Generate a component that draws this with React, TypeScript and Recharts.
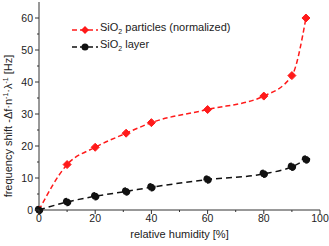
import { LineChart, Line, XAxis, YAxis } from "recharts";

const humidity = [0, 10, 20, 31, 40, 60, 80, 90, 95];
const particles = [0, 14.2, 19.6, 24.0, 27.3, 31.4, 35.6, 42.0, 60.0];
const layer = [0, 2.5, 4.3, 5.8, 7.1, 9.5, 11.3, 13.5, 15.8];

const xTicks = [0, 10, 20, 30, 40, 50, 60, 70, 80, 90, 100];
const yTicks = [0, 5, 10, 15, 20, 25, 30, 35, 40, 45, 50, 55, 60];

const RED = "#ff1a1a";
const BLACK = "#111111";
const AXIS = "#333333";
const FONT = "'Liberation Sans', Arial, sans-serif";

const data = humidity.map((x, i) => ({ x, particles: particles[i], layer: layer[i] }));

function XTick(props: any) {
  const { x, y, payload } = props;
  const major = payload.value % 20 === 0;
  return (
    <g>
      <line x1={x} x2={x} y1={y} y2={y + (major ? 4 : 2)} stroke={AXIS} />
      {major && (
        <text x={x} y={y + 12} textAnchor="middle" fontSize={10.5} fill="#222" fontFamily={FONT}>
          {payload.value}
        </text>
      )}
    </g>
  );
}

function YTick(props: any) {
  const { x, y, payload } = props;
  const major = payload.value % 10 === 0;
  return (
    <g>
      <line x1={x} x2={x - (major ? 4 : 2)} y1={y} y2={y} stroke={AXIS} />
      {major && (
        <text x={x - 6} y={y + 3.5} textAnchor="end" fontSize={10.5} fill="#222" fontFamily={FONT}>
          {payload.value}
        </text>
      )}
    </g>
  );
}

function Diamond(props: any) {
  const { cx, cy } = props;
  if (cx == null || cy == null) return <g />;
  const s = 4;
  return (
    <polygon
      points={`${cx},${cy - s} ${cx + s},${cy} ${cx},${cy + s} ${cx - s},${cy}`}
      fill={RED}
      stroke={RED}
      strokeWidth={1}
    />
  );
}

function XLabel(props: any) {
  const vb = props.viewBox || { x: 39, y: 210, width: 281, height: 36 };
  return (
    <text
      x={vb.x + vb.width / 2}
      y={vb.y + 28}
      textAnchor="middle"
      fontSize={11}
      fill="#222"
      fontFamily={FONT}
    >
      relative humidity [%]
    </text>
  );
}

function YLabel(props: any) {
  const vb = props.viewBox || { x: 0, y: 2, width: 39, height: 208 };
  const cy = vb.y + vb.height / 2 + 20;
  return (
    <text
      transform={`translate(${vb.x + 12}, ${cy}) rotate(-90)`}
      textAnchor="middle"
      fontSize={11}
      fill="#222"
      fontFamily={FONT}
    >
      frequency shift -Δf·n
      <tspan fontSize={7} dy={-4}>-1</tspan>
      <tspan dy={4}>·λ</tspan>
      <tspan fontSize={7} dy={-4}>-1</tspan>
      <tspan dy={4}> [Hz]</tspan>
    </text>
  );
}

function LegendRow({ color, label, marker }: { color: string; label: string; marker: "diamond" | "circle" }) {
  return (
    <div style={{ display: "flex", alignItems: "center", height: 17 }}>
      <svg width={28} height={10}>
        <line x1={1} x2={27} y1={5} y2={5} stroke={color} strokeWidth={1.5} strokeDasharray="5 3" />
        {marker === "diamond" ? (
          <polygon points="14,1 18,5 14,9 10,5" fill={color} />
        ) : (
          <circle cx={14} cy={5} r={3.5} fill={color} />
        )}
      </svg>
      <span style={{ marginLeft: 1 }}>
        SiO<sub style={{ fontSize: 7, verticalAlign: -3 }}>2</sub> {label}
      </span>
    </div>
  );
}

export default function App() {
  return (
    <div style={{ position: "fixed", left: 0, top: 0, width: 329, height: 246, background: "#fff" }}>
      <LineChart width={329} height={246} data={data} margin={{ top: 2, right: 9, bottom: 0, left: 0 }}>
        <XAxis
          type="number"
          dataKey="x"
          domain={[0, 100]}
          ticks={xTicks}
          interval={0}
          tickSize={0}
          tickMargin={0}
          tickLine={false}
          tick={<XTick />}
          height={36}
          stroke={AXIS}
          label={{ content: (p: any) => <XLabel {...p} /> }}
        />
        <YAxis
          type="number"
          domain={[0, 65]}
          ticks={yTicks}
          interval={0}
          tickSize={0}
          tickMargin={0}
          tickLine={false}
          tick={<YTick />}
          width={39}
          stroke={AXIS}
          label={{ content: (p: any) => <YLabel {...p} /> }}
        />
        <Line
          type="monotone"
          dataKey="particles"
          stroke={RED}
          strokeWidth={1.5}
          strokeDasharray="5 3"
          dot={<Diamond />}
          isAnimationActive={false}
        />
        <Line
          type="monotone"
          dataKey="layer"
          stroke={BLACK}
          strokeWidth={1.5}
          strokeDasharray="6 4"
          dot={{ r: 3.5, fill: BLACK, stroke: BLACK }}
          isAnimationActive={false}
        />
      </LineChart>
      <div
        style={{
          position: "absolute",
          left: 71,
          top: 21,
          fontSize: 11,
          fontFamily: FONT,
          color: "#222",
          lineHeight: "17px",
        }}
      >
        <LegendRow color={RED} label="particles (normalized)" marker="diamond" />
        <LegendRow color={BLACK} label="layer" marker="circle" />
      </div>
    </div>
  );
}
